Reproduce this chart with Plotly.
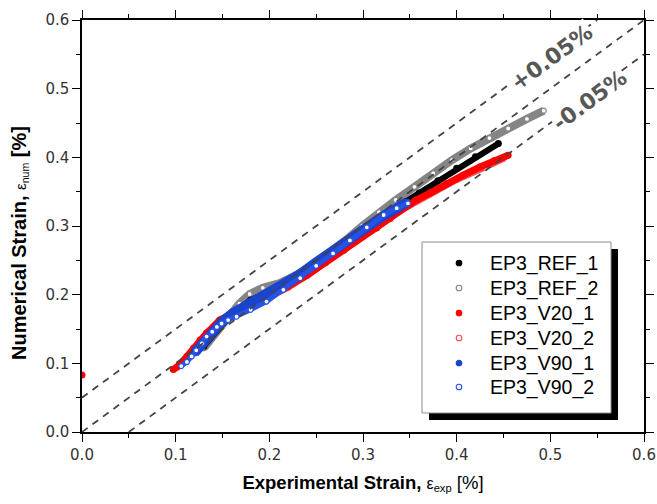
import plotly.graph_objects as go

# ---------------- data ----------------
ref1_x = [0.130, 0.145, 0.160, 0.180, 0.200, 0.220, 0.240, 0.260, 0.280, 0.300,
          0.320, 0.340, 0.360, 0.380, 0.400, 0.420, 0.4445]
ref1_y = [0.125, 0.150, 0.172, 0.192, 0.204, 0.217, 0.234, 0.254, 0.276, 0.296,
          0.315, 0.331, 0.348, 0.366, 0.384, 0.401, 0.420]

ref2_x = [0.130, 0.140, 0.147, 0.157, 0.168, 0.179, 0.193, 0.211, 0.228, 0.246,
          0.264, 0.282, 0.299, 0.317, 0.335, 0.355, 0.375, 0.395, 0.415, 0.435,
          0.455, 0.475, 0.493]
ref2_y = [0.122, 0.139, 0.153, 0.170, 0.187, 0.201, 0.210, 0.217, 0.228, 0.243,
          0.260, 0.280, 0.300, 0.320, 0.338, 0.357, 0.377, 0.396, 0.413, 0.428,
          0.442, 0.456, 0.468]

v20_1_x = [0.000, 0.0975, 0.104, 0.112, 0.119, 0.126, 0.133, 0.140, 0.147, 0.160,
           0.180, 0.200, 0.220, 0.240, 0.260, 0.280, 0.300, 0.3146, 0.329, 0.343,
           0.357, 0.3715, 0.389, 0.407, 0.425, 0.440, 0.455]
v20_1_y = [0.083, 0.091, 0.0975, 0.110, 0.122, 0.134, 0.144, 0.153, 0.163, 0.172,
           0.186, 0.197, 0.212, 0.228, 0.247, 0.266, 0.285, 0.297, 0.311, 0.326,
           0.338, 0.348, 0.362, 0.374, 0.386, 0.395, 0.403]

v20_2_x = [0.102, 0.110, 0.120, 0.130, 0.145, 0.165, 0.190, 0.220, 0.250, 0.280,
           0.310, 0.340, 0.370, 0.400, 0.430, 0.450]
v20_2_y = [0.094, 0.105, 0.120, 0.137, 0.158, 0.174, 0.190, 0.210, 0.237, 0.264,
           0.293, 0.322, 0.345, 0.367, 0.385, 0.398]

v90_1_x = [0.120, 0.130, 0.140, 0.150, 0.160, 0.170, 0.180, 0.195, 0.215, 0.233,
           0.250, 0.268, 0.286, 0.304, 0.322, 0.335, 0.347]
v90_1_y = [0.115, 0.131, 0.147, 0.161, 0.172, 0.180, 0.188, 0.198, 0.214, 0.230,
           0.247, 0.265, 0.283, 0.300, 0.315, 0.325, 0.335]

v90_2_x = [0.106, 0.112, 0.117, 0.122, 0.128, 0.133, 0.139, 0.144, 0.149, 0.156,
           0.165, 0.180, 0.197, 0.215, 0.233, 0.250, 0.268, 0.286, 0.304, 0.322,
           0.336, 0.348]
v90_2_y = [0.096, 0.102, 0.110, 0.119, 0.129, 0.139, 0.146, 0.153, 0.158, 0.163,
           0.168, 0.178, 0.190, 0.207, 0.224, 0.242, 0.260, 0.279, 0.298, 0.316,
           0.326, 0.333]

series_names = ["EP3_REF_1", "EP3_REF_2", "EP3_V20_1", "EP3_V20_2", "EP3_V90_1", "EP3_V90_2"]

band_offsets = [0.05, 0.0, -0.05]          # dashed reference lines: y = x + offset
band_labels = ["+0.05%", "-0.05%"]
axis_range = [0.0, 0.6]
tick_values = [0.0, 0.1, 0.2, 0.3, 0.4, 0.5, 0.6]
tick_text = ["0.0", "0.1", "0.2", "0.3", "0.4", "0.5", "0.6"]

x_title = "<b>Experimental Strain,</b> <span style='font-size:16px'>ε<sub>exp</sub></span> [%]"
y_title = "<b>Numerical Strain,</b> <span style='font-size:15px'>ε<sub>num</sub></span> <b>[%]</b>"

# ---------------- styles ----------------
styles = {
    "EP3_REF_1": dict(x=ref1_x, y=ref1_y, color="#000000", filled=True, lw=6),
    "EP3_REF_2": dict(x=ref2_x, y=ref2_y, color="#858585", filled=False, lw=8),
    "EP3_V20_1": dict(x=v20_1_x, y=v20_1_y, color="#ff0000", filled=True, lw=7),
    "EP3_V20_2": dict(x=v20_2_x, y=v20_2_y, color="#ff4a4a", filled=False, lw=6),
    "EP3_V90_1": dict(x=v90_1_x, y=v90_1_y, color="#1a44cc", filled=True, lw=10),
    "EP3_V90_2": dict(x=v90_2_x, y=v90_2_y, color="#2553e6", filled=False, lw=5),
}
draw_order = ["EP3_REF_2", "EP3_REF_1", "EP3_V20_2", "EP3_V20_1", "EP3_V90_1", "EP3_V90_2"]

SANS = "Liberation Sans, Arial, sans-serif"
WIDE = "DejaVu Sans, sans-serif"

# plot-area pixel frame (for placing the hand-drawn legend and titles)
PL, PR, PT, PB = 82, 644, 20, 432
def px(xp):
    return (xp - PL) / (PR - PL)
def py(yp):
    return (PB - yp) / (PB - PT)

def with_gaps(xs, ys, gap=0.05):
    gx, gy = [], []
    for i, (a, b) in enumerate(zip(xs, ys)):
        if i > 0 and a - xs[i - 1] > gap:
            gx.append(None)
            gy.append(None)
        gx.append(a)
        gy.append(b)
    return gx, gy

fig = go.Figure()

for name in draw_order:
    s = styles[name]
    lx, ly = with_gaps(s["x"], s["y"])
    fig.add_trace(go.Scatter(
        x=lx, y=ly, mode="lines", connectgaps=False,
        line=dict(color=s["color"], width=s["lw"]),
        showlegend=False, hoverinfo="skip"))
    if s["filled"]:
        marker = dict(symbol="circle", size=7, color=s["color"], line=dict(width=0))
    else:
        marker = dict(symbol="circle", size=5, color="white",
                      line=dict(color=s["color"], width=1.2))
    fig.add_trace(go.Scatter(
        x=s["x"], y=s["y"], mode="markers", name=name, marker=marker,
        showlegend=False))

# dashed reference lines
for off in band_offsets:
    x0 = max(axis_range[0], axis_range[0] - off)
    x1 = min(axis_range[1], axis_range[1] - off)
    fig.add_trace(go.Scatter(
        x=[x0, x1], y=[x0 + off, x1 + off], mode="lines",
        line=dict(color="#444444", width=1.8, dash="7px,6px"),
        showlegend=False, hoverinfo="skip"))

# band labels
label_pos = [(0.501, 0.546), (0.5415, 0.483)]
for txt, (lx, ly) in zip(band_labels, label_pos):
    fig.add_annotation(x=lx, y=ly, xref="x", yref="y", text="<b>" + txt + "</b>",
                       showarrow=False, textangle=-36.2, bgcolor="white",
                       font=dict(family=WIDE, size=22, color="#575757"),
                       borderpad=0)

# legend box + shadow
fig.add_shape(type="rect", xref="paper", yref="paper",
              x0=px(429), x1=px(618), y0=py(420), y1=py(249),
              fillcolor="black", line=dict(width=0), layer="above")
fig.add_shape(type="rect", xref="paper", yref="paper",
              x0=px(422), x1=px(611), y0=py(413), y1=py(242),
              fillcolor="white", line=dict(color="#8c8c8c", width=1), layer="above")

legend_rows = [263, 288, 313, 338, 363, 387]
for name, row in zip(series_names, legend_rows):
    s = styles[name]
    if s["filled"]:
        fill, edge = s["color"], s["color"]
    else:
        fill, edge = "white", s["color"]
    fig.add_shape(type="circle", xref="paper", yref="paper",
                  xsizemode="pixel", ysizemode="pixel",
                  xanchor=px(459), yanchor=py(row),
                  x0=-2.8, x1=2.8, y0=-2.8, y1=2.8,
                  fillcolor=fill, line=dict(color=edge, width=1.1), layer="above")
    fig.add_annotation(x=px(488), y=py(row), xref="paper", yref="paper",
                       text=name, showarrow=False, xanchor="left", yanchor="middle",
                       font=dict(family=SANS, size=19.5, color="black"))

# y-axis title (placed as in the reference, slightly below the axis centre)
fig.add_annotation(x=px(19), y=py(243), xref="paper", yref="paper",
                   text=y_title, showarrow=False, textangle=-90,
                   xanchor="center", yanchor="middle",
                   font=dict(family=SANS, size=20, color="black"))

axis_common = dict(
    range=axis_range, tickvals=tick_values, ticktext=tick_text,
    ticks="outside", ticklen=8, tickwidth=1.3, tickcolor="black",
    showline=True, linecolor="black", linewidth=1.5, mirror="allticks",
    showgrid=False, zeroline=False, automargin=False,
    minor=dict(dtick=0.05, ticks="outside", ticklen=4, tickwidth=1.2, tickcolor="black"),
    tickfont=dict(family=WIDE, size=15, color="#333333"),
)

fig.update_layout(
    width=657, height=504,
    margin=dict(l=PL, r=657 - PR, t=PT, b=504 - PB),
    paper_bgcolor="white", plot_bgcolor="white",
    font=dict(family=SANS, color="black"),
    xaxis=dict(**axis_common,
               title=dict(text=x_title,
                          font=dict(family=SANS, size=18.5, color="black"), standoff=13)),
    yaxis=dict(**axis_common),
    showlegend=False,
)

fig.write_html("out.html")
